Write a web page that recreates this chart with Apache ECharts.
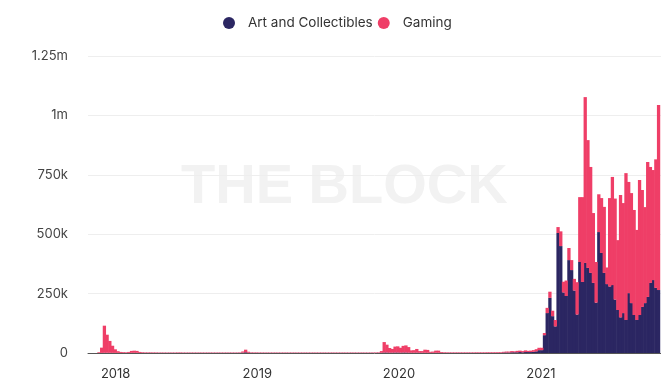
<!DOCTYPE html>
<html>
<head>
<meta charset="utf-8">
<script src="https://cdn.jsdelivr.net/npm/echarts@6/dist/echarts.min.js"></script>
<style>
  html, body { margin: 0; padding: 0; background: #ffffff; }
  #chart { width: 661px; height: 381px; }
</style>
</head>
<body>
<div id="chart"></div>
<script>
// Weekly NFT volume (USD) by category, weeks ending on Sundays
const firstWeek = '2017-11-19';
const seriesNames = ['Art and Collectibles', 'Gaming'];
const yTicks = ['0', '250k', '500k', '750k', '1m', '1.25m'];

const gamingLate2017 = [3000, 22000, 114000, 76000, 50000, 30000, 15000];
const artLate2017    = [0, 500, 1000, 1000, 800, 600, 500];

const gaming2018 = [
  7000, 4000, 3000, 2500, 4000, 8000, 9000, 8000, 4000, 2500,
  2000, 2000, 2000, 1800, 1800, 1500, 1500, 1500, 1500, 1500,
  1500, 1500, 1800, 1800, 1500, 1500, 1500, 1500, 1500, 1500,
  1500, 1500, 1500, 1500, 1500, 1500, 1500, 1500, 1500, 1500,
  1500, 1500, 1500, 1500, 1500, 1800, 5000, 11000, 4000, 2000,
  1800, 1800
];
const art2018 = [
  500, 500, 500, 500, 500, 800, 800, 800, 500, 500,
  500, 500, 500, 500, 500, 500, 500, 500, 500, 500,
  500, 500, 500, 500, 500, 500, 500, 500, 500, 500,
  500, 500, 500, 500, 500, 500, 500, 500, 500, 500,
  500, 500, 500, 500, 500, 600, 1500, 3000, 1200, 600,
  500, 500
];

const gaming2019 = [
  1600, 1600, 1500, 1500, 1500, 1500, 1500, 1500, 1500, 1500,
  1500, 1500, 1500, 1500, 1500, 1500, 1500, 1500, 1500, 1500,
  1500, 1500, 1500, 1500, 1500, 1500, 1500, 1500, 1500, 1500,
  1500, 1500, 1500, 1500, 1500, 1500, 1500, 1500, 1500, 1500,
  1500, 1500, 1600, 1800, 2000, 7000, 44000, 33000, 19500, 15500,
  25000, 26000
];
const art2019 = [
  500, 500, 500, 500, 500, 500, 500, 500, 500, 500,
  500, 500, 500, 500, 500, 500, 500, 500, 500, 500,
  500, 500, 500, 500, 500, 500, 500, 500, 500, 500,
  500, 500, 500, 500, 500, 500, 500, 500, 500, 500,
  500, 500, 500, 500, 500, 1000, 2000, 2000, 1500, 1500,
  2000, 2000
];

const gaming2020 = [
  20500, 28000, 30000, 23500, 10000, 11000, 15500, 7000, 7000, 13000,
  12000, 4200, 5200, 9000, 9000, 3300, 2500, 2200, 2000, 2000,
  2000, 2000, 2000, 2000, 2000, 2000, 2000, 2000, 2200, 2200,
  2200, 2200, 2500, 2500, 2500, 2500, 2800, 2800, 3000, 4000,
  4000, 5000, 4000, 6000, 6000, 5000, 7000, 5000, 6000, 7000,
  9000, 10000
];
const art2020 = [
  1500, 2000, 2000, 1500, 1000, 1000, 1500, 1000, 1000, 1000,
  1000, 800, 800, 1000, 1000, 700, 500, 500, 500, 500,
  500, 500, 500, 500, 500, 500, 500, 500, 500, 500,
  500, 500, 500, 500, 500, 500, 500, 500, 2000, 2000,
  2000, 3000, 3000, 3000, 4000, 3000, 4000, 4000, 4000, 5000,
  7000, 12000
];

const gaming2021 = [
  10000, 9000, 22000, 26000, 23000, 27000, 25000, 62000, 45000, 65000,
  51000, 42000, 49000, 136000, 273000, 357000, 698000, 538000, 446000, 294000,
  171000, 159000, 231000, 278000, 70000, 372000, 455000, 425000, 294000, 515000,
  463000, 618000, 468000, 463000, 442000, 379000, 568000, 492000, 404000, 568000,
  488000, 463000, 541000, 779000
];
const art2021 = [
  12000, 75000, 168000, 232000, 155000, 112000, 505000, 450000, 255000, 240000,
  391000, 349000, 263000, 162000, 383000, 299000, 379000, 358000, 337000, 295000,
  212000, 509000, 421000, 337000, 290000, 280000, 286000, 225000, 181000, 150000,
  168000, 139000, 252000, 210000, 160000, 139000, 160000, 194000, 210000, 236000,
  295000, 307000, 274000, 265000
];

const gaming = [].concat(gamingLate2017, gaming2018, gaming2019, gaming2020, gaming2021);
const art = [].concat(artLate2017, art2018, art2019, art2020, art2021);

// one date string per weekly bucket
const weeks = [];
{
  const start = Date.parse(firstWeek + 'T00:00:00Z');
  for (let i = 0; i < gaming.length; i++) {
    weeks.push(new Date(start + i * 7 * 86400000).toISOString().slice(0, 10));
  }
}

const navy = '#2b2662';
const pink = '#ef3e67';
const font = 'Inter, "Noto Sans", sans-serif';

const chart = echarts.init(document.getElementById('chart'), null, { renderer: 'canvas' });
chart.setOption({
  animation: false,
  backgroundColor: '#ffffff',
  textStyle: { fontFamily: font },
  graphic: [{
    type: 'text',
    left: 181,
    top: 160,
    z: 0,
    silent: true,
    style: {
      text: 'THE BLOCK',
      fill: '#f2f2f2',
      font: 'bold 56px "Liberation Sans", Arial, sans-serif'
    }
  }],
  legend: {
    left: 218,
    top: 11,
    icon: 'circle',
    itemWidth: 28,
    itemHeight: 12,
    itemGap: 5,
    data: seriesNames,
    textStyle: { fontSize: 13.5, color: '#333333', fontFamily: font }
  },
  grid: { left: 88, right: 0, top: 56, bottom: 28, containLabel: false },
  xAxis: {
    type: 'time',
    min: '2017-10-26',
    max: '2021-11-02',
    splitLine: { show: false },
    axisTick: { show: false },
    axisLine: { show: true, lineStyle: { color: '#555555', width: 1 } },
    axisLabel: {
      margin: 15,
      fontSize: 13,
      color: '#333333',
      fontFamily: font,
      hideOverlap: false,
      formatter: function (val) {
        const d = new Date(val);
        return (d.getMonth() === 0 && d.getDate() === 1) ? String(d.getFullYear()) : '';
      }
    }
  },
  yAxis: {
    type: 'value',
    min: 0,
    max: 1250000,
    interval: 250000,
    axisLine: { show: false },
    axisTick: { show: false },
    splitLine: { lineStyle: { color: '#eeeeee', width: 1 } },
    axisLabel: {
      margin: 20,
      fontSize: 13,
      color: '#444444',
      fontFamily: font,
      formatter: function (v) { return yTicks[Math.round(v / 250000)]; }
    }
  },
  series: [
    {
      name: seriesNames[0],
      type: 'bar',
      stack: 'volume',
      barWidth: 3.3,
      itemStyle: { color: navy },
      data: weeks.map((w, i) => [w, art[i]])
    },
    {
      name: seriesNames[1],
      type: 'bar',
      stack: 'volume',
      barWidth: 3.3,
      itemStyle: { color: pink },
      data: weeks.map((w, i) => [w, gaming[i]])
    }
  ]
});
</script>
</body>
</html>
